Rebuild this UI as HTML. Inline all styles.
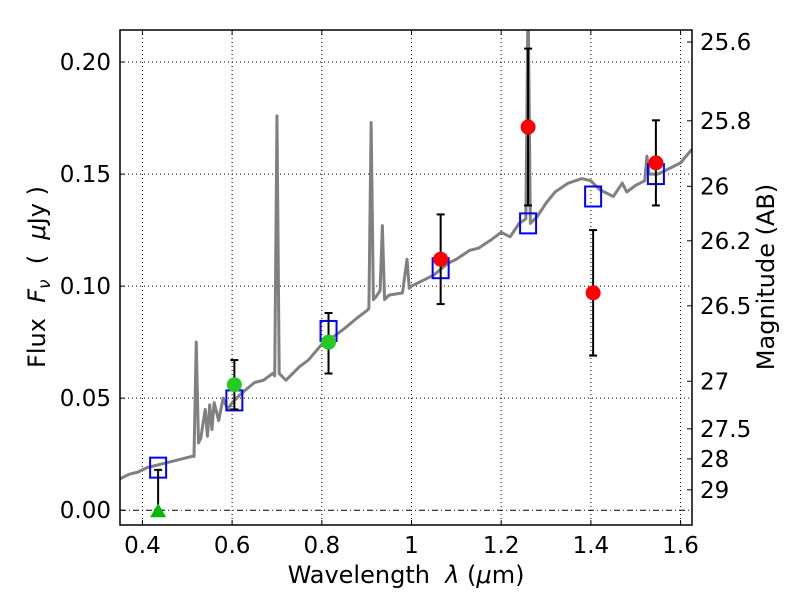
<!DOCTYPE html>
<html><head><meta charset="utf-8"><style>
body{margin:0;background:#fff;font-family:"Liberation Sans","DejaVu Sans",sans-serif}
svg text{font-family:"DejaVu Sans","Liberation Sans",sans-serif;white-space:pre}
</style></head><body>
<svg id="chart" width="800" height="600">
<defs><clipPath id="clip"><rect x="120" y="30" width="572" height="495"/></clipPath></defs>
<rect width="800" height="600" fill="#fff"/>
<g id="grid"></g>
<g id="spec" clip-path="url(#clip)"></g>
<g id="marks" clip-path="url(#clip)"></g>
<rect x="120" y="30" width="572" height="495" fill="none" stroke="#000" stroke-width="1.5"/>
<g id="axes"></g>
<text x="406" y="583" font-size="24" text-anchor="middle">Wavelength  <tspan font-style="italic">λ</tspan> (<tspan font-style="italic">μ</tspan>m)</text>
<text transform="translate(45,277) rotate(-90)" font-size="24" text-anchor="middle">Flux  <tspan font-style="italic">F</tspan><tspan font-style="italic" font-size="17" dy="5">ν</tspan><tspan dy="-5">  (  </tspan><tspan font-style="italic">μ</tspan>Jy )</text>
<text transform="translate(774,277) rotate(-90)" font-size="24" text-anchor="middle">Magnitude (AB)</text>
</svg>
<script>
const xTicks=[0.4,0.6,0.8,1.0,1.2,1.4,1.6];
const xTickLabels=["0.4","0.6","0.8","1","1.2","1.4","1.6"];
const yTicks=[0,0.05,0.10,0.15,0.20];
const yTickLabels=["0.00","0.05","0.10","0.15","0.20"];
const magTicks=[25.6,25.8,26,26.2,26.5,27,27.5,28,29];
const magTickLabels=["25.6","25.8","26","26.2","26.5","27","27.5","28","29"];
const specWave=[0.35,0.37,0.39,0.41,0.43,0.45,0.47,0.49,0.51,0.515,0.52,0.525,0.53,0.54,0.545,0.55,0.555,0.56,0.57,0.58,0.59,0.60,0.62,0.65,0.67,0.69,0.695,0.70,0.705,0.72,0.75,0.77,0.80,0.83,0.85,0.88,0.90,0.905,0.91,0.915,0.92,0.93,0.935,0.94,0.95,0.98,0.99,0.995,1.0,1.03,1.05,1.08,1.1,1.13,1.15,1.18,1.2,1.22,1.24,1.255,1.26,1.265,1.28,1.3,1.32,1.35,1.38,1.4,1.42,1.45,1.46,1.47,1.48,1.5,1.52,1.525,1.53,1.55,1.58,1.6,1.625];
const specFlux=[0.014,0.016,0.017,0.019,0.020,0.021,0.022,0.023,0.024,0.024,0.075,0.030,0.032,0.045,0.033,0.047,0.036,0.048,0.040,0.050,0.045,0.048,0.052,0.057,0.058,0.061,0.06,0.176,0.061,0.058,0.064,0.067,0.074,0.078,0.081,0.086,0.089,0.09,0.173,0.094,0.095,0.098,0.127,0.094,0.096,0.097,0.112,0.099,0.100,0.103,0.105,0.110,0.112,0.116,0.117,0.121,0.124,0.122,0.128,0.130,0.23,0.128,0.131,0.137,0.142,0.146,0.148,0.147,0.143,0.140,0.143,0.146,0.142,0.145,0.147,0.158,0.150,0.150,0.153,0.155,0.161];
const bandWave=[0.435,0.605,0.815,1.065,1.26,1.405,1.545];
const modelFlux=[0.019,0.049,0.080,0.108,0.128,0.140,0.150];
const obsFlux=[0,0.056,0.075,0.112,0.171,0.097,0.155];
const obsLow=[0,0.045,0.061,0.092,0.136,0.069,0.136];
const obsHigh=[0.018,0.067,0.088,0.132,0.206,0.125,0.174];
const obsKind=["tri","g","g","r","r","r","r"];
const X0=0.35,X1=1.6255,Y0=-0.0066,Y1=0.2143,L=120,R=692,T=30,B=525;
const sx=v=>L+(v-X0)/(X1-X0)*(R-L);
const sy=v=>B-(v-Y0)/(Y1-Y0)*(B-T);
const NS="http://www.w3.org/2000/svg";
function mk(tag,attrs,parent,txt){const e=document.createElementNS(NS,tag);for(const k in attrs)e.setAttribute(k,attrs[k]);if(txt!=null)e.textContent=txt;parent.appendChild(e);return e;}
const grid=document.getElementById('grid'),axes=document.getElementById('axes'),spec=document.getElementById('spec'),marks=document.getElementById('marks');
xTicks.forEach((v,i)=>{const x=sx(v);
 let g=mk('line',{x1:x,x2:x,y1:T,y2:B,stroke:'#000','stroke-dasharray':'1,3','stroke-width':1},grid);
 
 mk('line',{x1:x,x2:x,y1:B,y2:B-5,stroke:'#000'},axes);mk('line',{x1:x,x2:x,y1:T,y2:T+5,stroke:'#000'},axes);
 const t=mk('text',{x:x,y:B+28,'font-size':23,'text-anchor':'middle'},axes,xTickLabels[i]);
 });
yTicks.forEach((v,i)=>{const y=sy(v);
 let g=mk('line',{x1:L,x2:R,y1:y,y2:y,stroke:'#000','stroke-dasharray':v===0?'6,3,1,3':'1,3','stroke-width':1},grid);
 
 mk('line',{x1:L,x2:L+5,y1:y,y2:y,stroke:'#000'},axes);
 const t=mk('text',{x:L-9,y:y+8,'font-size':23,'text-anchor':'end'},axes,yTickLabels[i]);
 });
magTicks.forEach((m,i)=>{const y=sy(Math.pow(10,-0.4*(m-23.9)));
 mk('line',{x1:R,x2:R-5,y1:y,y2:y,stroke:'#000'},axes);
 const t=mk('text',{x:R+8,y:y+8,'font-size':23},axes,magTickLabels[i]);
 });
const p=mk('polyline',{points:specWave.map((w,i)=>sx(w)+','+sy(specFlux[i])).join(' '),fill:'none',stroke:'#808080','stroke-width':3,'stroke-linejoin':'round'},spec);

bandWave.forEach((w,i)=>{const x=sx(w);
 const s=mk('rect',{x:x-8,y:sy(modelFlux[i])-10,width:16,height:20,fill:'none',stroke:'#0000ff','stroke-width':2},marks);
 
 const e=mk('g',{stroke:'#000','stroke-width':2},marks);
 
 mk('line',{x1:x,x2:x,y1:sy(obsLow[i]),y2:sy(obsHigh[i])},e);
 mk('line',{x1:x-4,x2:x+4,y1:sy(obsLow[i]),y2:sy(obsLow[i])},e);
 mk('line',{x1:x-4,x2:x+4,y1:sy(obsHigh[i]),y2:sy(obsHigh[i])},e);
 const y=sy(obsFlux[i]);let m;
 if(obsKind[i]==='tri'){m=mk('polygon',{points:`${x-8},${y+7} ${x+8},${y+7} ${x},${y-7}`,fill:'#00bb00'},marks);}
 else{m=mk('circle',{cx:x,cy:y,r:7.5,fill:obsKind[i]==='g'?'#22cc22':'#ff0000'},marks);}
 });
</script>
</body></html>
